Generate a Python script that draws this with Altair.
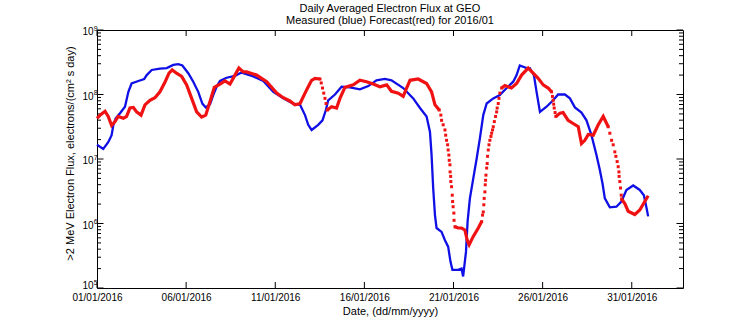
import altair as alt
import pandas as pd

# ---- data (days since 2016-01-01 00:00, flux) ----
blue_day = [0.00, 0.35, 0.63, 0.82, 0.92, 1.05, 1.29, 1.57, 1.76, 1.94, 2.32, 2.65, 2.79, 3.07,
            3.53, 3.91, 4.28, 4.56, 4.79, 5.12, 5.40, 5.68, 5.91, 6.10, 6.34, 6.52, 6.71, 6.90,
            7.27, 7.74, 8.11, 8.77, 9.33, 9.89, 10.45, 11.01, 11.39, 11.67, 11.85, 12.04, 12.41,
            12.65, 12.84, 12.97, 13.35, 13.72, 14.19, 14.75, 15.22, 15.68, 16.15, 16.52, 17.18,
            17.74, 18.12, 18.49, 18.68, 18.77, 18.86, 18.96, 19.05, 19.33, 19.52, 19.70, 19.83,
            19.94, 20.26, 20.45, 20.54, 20.70, 20.79, 20.92, 21.11, 21.30, 21.48, 21.67, 21.86,
            22.23, 22.60, 22.98, 23.35, 23.54, 23.72, 24.10, 24.28, 24.51, 24.66, 24.85, 25.22,
            25.59, 25.87, 26.25, 26.53, 26.81, 27.18, 27.46, 27.74, 28.02, 28.21, 28.36, 28.49,
            28.77, 29.14, 29.42, 29.70, 30.08, 30.45, 30.68, 30.83, 30.92]
blue_flux = [1.66e7, 1.43e7, 1.82e7, 2.34e7, 3.39e7, 4.27e7, 5.13e7, 6.46e7, 1.10e8, 1.48e8, 1.62e8,
             1.74e8, 2.00e8, 2.40e8, 2.51e8, 2.57e8, 2.88e8, 2.95e8, 2.82e8, 2.14e8, 1.58e8, 1.10e8,
             7.24e7, 6.31e7, 7.08e7, 9.77e7, 1.32e8, 1.62e8, 1.82e8, 1.95e8, 2.19e8, 1.91e8, 1.62e8,
             1.10e8, 8.71e7, 7.24e7, 6.92e7, 4.79e7, 3.39e7, 2.82e7, 3.39e7, 3.98e7, 5.75e7, 8.13e7,
             1.00e8, 1.32e8, 1.29e8, 1.20e8, 1.35e8, 1.66e8, 1.74e8, 1.66e8, 1.26e8, 8.71e7, 6.17e7,
             4.57e7, 2.63e7, 1.15e7, 3.55e6, 1.35e6, 8.51e5, 7.41e5, 5.50e5, 4.37e5, 2.57e5, 1.91e5,
             1.91e5, 2.00e5, 1.51e5, 3.63e5, 1.07e6, 2.45e6, 5.01e6, 1.02e7, 2.09e7, 4.79e7, 7.24e7,
             8.71e7, 9.77e7, 1.26e8, 1.58e8, 2.00e8, 2.82e8, 2.57e8, 2.57e8, 2.00e8, 1.10e8, 5.37e7,
             6.46e7, 8.13e7, 1.00e8, 1.00e8, 8.71e7, 6.31e7, 5.25e7, 3.98e7, 2.34e7, 1.15e7, 6.76e6,
             4.17e6, 2.45e6, 1.78e6, 1.82e6, 2.19e6, 3.31e6, 3.89e6, 3.31e6, 2.75e6, 1.74e6, 1.29e6]

red_day = [0.00, 0.22, 0.45, 0.63, 0.82, 1.01, 1.19, 1.48, 1.66, 1.85, 2.04, 2.22, 2.47, 2.69,
           2.97, 3.25, 3.53, 3.81, 4.04, 4.22, 4.46, 4.75, 5.03, 5.31, 5.59, 5.87, 6.10, 6.34,
           6.58, 6.90, 7.18, 7.46, 7.70, 7.96, 8.21, 8.39, 8.95, 9.52, 10.08, 10.45, 10.82, 11.10,
           11.39, 11.67, 11.85, 12.04, 12.23, 12.51, 12.58, 12.65, 12.72, 12.79, 12.85, 12.92,
           13.16, 13.44, 13.63, 13.91, 14.38, 14.75, 15.12, 15.50, 15.87, 16.25, 16.52, 16.90,
           17.18, 17.37, 17.56, 18.02, 18.49, 18.77, 18.96, 19.20, 19.29, 19.33, 19.42, 19.52,
           19.56, 19.61, 19.67, 19.70, 19.74, 19.76, 19.80, 19.81, 19.84, 19.85, 19.89, 19.93,
           19.95, 19.98, 20.02, 20.03, 20.08, 20.26, 20.45, 20.64, 20.77, 20.88, 21.11, 21.39,
           21.58, 21.63, 21.67, 21.70, 21.72, 21.76, 21.78, 21.80, 21.82, 21.86, 21.89, 21.91,
           21.95, 21.99, 22.04, 22.10, 22.14, 22.19, 22.23, 22.29, 22.36, 22.42, 22.45, 22.51,
           22.55, 22.60, 22.70, 22.88, 23.25, 23.54, 23.82, 24.19, 24.47, 24.75, 25.03, 25.31,
           25.50, 25.55, 25.59, 25.62, 25.65, 25.70, 25.74, 25.97, 26.15, 26.43, 26.71, 27.00,
           27.09, 27.18, 27.37, 27.56, 27.84, 28.12, 28.40, 28.68, 28.77, 28.87, 28.96, 29.05,
           29.11, 29.18, 29.24, 29.28, 29.29, 29.33, 29.37, 29.41, 29.43, 29.61, 29.80, 30.17,
           30.45, 30.73, 30.92]
red_flux = [4.27e7, 4.90e7, 5.50e7, 4.57e7, 3.31e7, 3.80e7, 4.57e7, 4.27e7, 4.57e7, 6.17e7, 6.31e7,
            5.37e7, 4.79e7, 6.92e7, 8.13e7, 8.91e7, 1.10e8, 1.55e8, 2.14e8, 2.40e8, 2.14e8, 1.91e8,
            1.41e8, 8.71e7, 5.37e7, 4.47e7, 4.79e7, 7.76e7, 1.29e8, 1.45e8, 1.62e8, 1.45e8, 1.91e8,
            2.57e8, 2.24e8, 2.24e8, 2.00e8, 1.58e8, 1.05e8, 8.91e7, 7.94e7, 6.92e7, 7.24e7, 1.05e8,
            1.32e8, 1.66e8, 1.78e8, 1.74e8, 1.51e8, 1.26e8, 1.05e8, 8.71e7, 7.24e7, 5.75e7, 6.46e7,
            6.17e7, 8.71e7, 1.29e8, 1.41e8, 1.66e8, 1.58e8, 1.45e8, 1.32e8, 1.41e8, 1.12e8, 1.05e8,
            9.33e7, 1.26e8, 1.66e8, 1.74e8, 1.48e8, 1.10e8, 6.92e7, 5.75e7, 4.79e7, 3.98e7, 3.39e7,
            2.82e7, 2.34e7, 1.95e7, 1.66e7, 1.38e7, 1.15e7, 9.55e6, 8.13e6, 6.31e6, 5.37e6, 4.47e6,
            3.72e6, 2.75e6, 2.19e6, 1.82e6, 1.45e6, 1.12e6, 8.91e5, 8.51e5, 8.51e5, 7.94e5, 5.50e5,
            4.68e5, 6.31e5, 8.51e5, 1.07e6, 1.35e6, 1.51e6, 1.95e6, 2.45e6, 3.09e6, 3.98e6, 4.68e6,
            5.62e6, 7.24e6, 8.51e6, 1.10e7, 1.38e7, 1.66e7, 1.95e7, 2.24e7, 2.51e7, 2.82e7, 3.16e7,
            3.80e7, 4.57e7, 5.37e7, 6.17e7, 7.24e7, 8.71e7, 1.05e8, 1.26e8, 1.38e8, 1.26e8, 1.48e8,
            2.00e8, 2.57e8, 2.14e8, 1.78e8, 1.41e8, 1.26e8, 1.10e8, 9.33e7, 8.13e7, 7.08e7, 6.17e7,
            5.25e7, 4.57e7, 5.13e7, 5.25e7, 3.98e7, 3.55e7, 3.16e7, 2.34e7, 1.74e7, 1.95e7, 2.40e7,
            2.34e7, 3.39e7, 4.57e7, 3.16e7, 2.51e7, 1.95e7, 1.66e7, 1.29e7, 1.10e7, 9.12e6, 7.59e6,
            6.31e6, 5.37e6, 4.47e6, 3.55e6, 2.75e6, 2.40e6, 2.04e6, 1.55e6, 1.38e6, 1.62e6, 2.19e6,
            2.69e6]

# stretches where the forecast's hourly markers separate into visible dots
dot_windows = [(12.51, 12.92), (19.20, 20.08), (21.58, 22.70), (25.50, 25.74), (28.68, 29.43)]

x_tick_dates = ["2016-01-01", "2016-01-06", "2016-01-11", "2016-01-16",
                "2016-01-21", "2016-01-26", "2016-01-31"]
y_major = [1e5, 1e6, 1e7, 1e8, 1e9]
y_base_label = ["10", "10", "10", "10", "10"]
y_exp_label = ["5", "6", "7", "8", "9"]
y_minor = [2e5, 3e5, 4e5, 5e5, 6e5, 7e5, 8e5, 9e5,
           2e6, 3e6, 4e6, 5e6, 6e6, 7e6, 8e6, 9e6,
           2e7, 3e7, 4e7, 5e7, 6e7, 7e7, 8e7, 9e7,
           2e8, 3e8, 4e8, 5e8, 6e8, 7e8, 8e8, 9e8]

title_lines = ["Daily Averaged Electron Flux at GEO", "Measured (blue) Forecast(red) for 2016/01"]
x_title = "Date, (dd/mm/yyyy)"
y_title = ">2 MeV Electron Flux, electrons/(cm\u00b2 s day)"

# ---- build tables ----
start = pd.Timestamp("2016-01-01")
blue_df = pd.DataFrame({"t": [start + pd.Timedelta(days=d) for d in blue_day], "flux": blue_flux})

red_df = pd.DataFrame({"d": red_day, "flux": red_flux})
red_df["t"] = [start + pd.Timedelta(days=d) for d in red_day]
red_df["inside"] = [any(s < d < e for s, e in dot_windows) for d in red_day]
red_df["dot"] = [any(s <= d <= e for s, e in dot_windows) for d in red_day]
red_df["seg"] = [sum(1 for s, e in dot_windows if e <= d) for d in red_day]
red_line_df = red_df[~red_df["inside"]][["t", "flux", "seg"]]
red_dot_df = red_df[red_df["dot"]][["t", "flux"]]

xt_df = pd.DataFrame({"t": pd.to_datetime(x_tick_dates)})
ymaj_df = pd.DataFrame({"flux": y_major, "base": y_base_label, "exp": y_exp_label})
ymin_df = pd.DataFrame({"flux": y_minor})

W, H = 586, 258
FONT = "Liberation Sans"
BLUE = "#1010e6"
RED = "#f01212"

xscale = alt.Scale(domain=[alt.DateTime(year=2016, month=1, date=1),
                           alt.DateTime(year=2016, month=2, date=2, hours=21)])
yscale = alt.Scale(type="log", domain=[1e5, 1e9], nice=False)

x_axis = alt.Axis(
    values=[alt.DateTime(year=2016, month=1, date=int(s[-2:])) for s in x_tick_dates],
    format="%d/%m/%Y", title=x_title, ticks=False, grid=False, domain=False,
    labelFontSize=10, labelPadding=4, labelOverlap=False, labelFlush=False,
    titleFontSize=11, titleFontWeight="normal", titlePadding=3,
)
y_axis = alt.Axis(
    values=y_major, title=y_title, ticks=False, grid=False, domain=False, labels=False,
    titleFontSize=11, titleFontWeight="normal", titleX=-22, titleY=123,
)

X = alt.X("t:T", scale=xscale, axis=x_axis)
Y = alt.Y("flux:Q", scale=yscale, axis=y_axis)

blue = alt.Chart(blue_df).mark_line(color=BLUE, strokeWidth=2.3).encode(x=X, y=Y)
red_line = alt.Chart(red_line_df).mark_line(color=RED, strokeWidth=3.2).encode(
    x=X, y=Y, detail="seg:N")
red_dots = alt.Chart(red_dot_df).mark_point(shape="square", filled=True, size=9, color=RED,
                                            opacity=1).encode(x=X, y=Y)

def yticks(df, x0, x1):
    return alt.Chart(df).mark_rule(color="black", strokeWidth=1).encode(
        y=Y, x=alt.value(x0), x2=alt.value(x1))

def xticks(y0, y1):
    return alt.Chart(xt_df).mark_rule(color="black", strokeWidth=1).encode(
        x=X, y=alt.value(y0), y2=alt.value(y1))

# y tick labels "10" with raised exponent, as in the reference
def ylabels(df, dy_base, dy_exp):
    base = alt.Chart(df).mark_text(align="right", baseline="middle", fontSize=10, font=FONT,
                                   color="black", dy=dy_base).encode(
        y=Y, x=alt.value(-3.5), text="base:N")
    exp = alt.Chart(df).mark_text(align="left", baseline="middle", fontSize=7, font=FONT,
                                  color="black", dy=dy_exp).encode(
        y=Y, x=alt.value(-3.3), text="exp:N")
    return [base, exp]

lab_top = ylabels(ymaj_df[ymaj_df["flux"] == 1e9], 2, -1.5)
lab_mid = ylabels(ymaj_df[(ymaj_df["flux"] > 1e5) & (ymaj_df["flux"] < 1e9)], 2, -1.5)
lab_bot = ylabels(ymaj_df[ymaj_df["flux"] == 1e5], -2.5, -5.5)

chart = alt.layer(
    blue,
    yticks(ymin_df, 0, 4), yticks(ymin_df, W, W - 4),
    yticks(ymaj_df, 0, 6.5), yticks(ymaj_df, W, W - 6.5),
    xticks(H, H - 6), xticks(0, 6),
    *lab_top, *lab_mid, *lab_bot,
    red_line, red_dots,
).properties(
    width=W, height=H,
    title=alt.TitleParams(title_lines, fontSize=11, fontWeight="normal", font=FONT,
                          anchor="middle", frame="group", offset=4, dy=5, lineHeight=12,
                          color="black"),
    autosize=alt.AutoSizeParams(type="none"),
    padding={"left": 97, "top": 30, "right": 73, "bottom": 36},
    background="white",
).configure_view(
    stroke="black", strokeWidth=1
).configure_axis(
    labelFont=FONT, titleFont=FONT, labelColor="black", titleColor="black"
)

chart.save("out.html", embed_options={"renderer": "svg", "actions": False})
